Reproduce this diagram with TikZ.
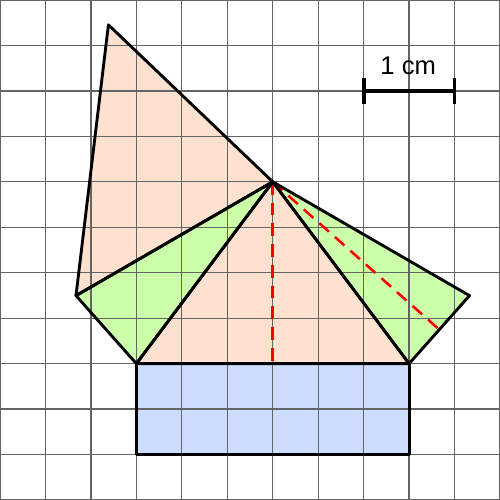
\documentclass[tikz,border=0pt]{standalone}
\usepackage{fontspec}
\setmainfont{Liberation Sans}
\definecolor{peach}{RGB}{255,225,208}
\definecolor{lgreen}{RGB}{204,255,170}
\definecolor{lblue}{RGB}{204,221,255}
\definecolor{gridgray}{RGB}{100,100,100}
\begin{document}
\begin{tikzpicture}[x=1cm,y=1cm,
  outline/.style={draw=black,line width=1.8pt,line join=round},
  gridline/.style={draw=gridgray,line width=0.8pt},
  heightline/.style={draw=red,line width=1.6pt,dash pattern=on 8pt off 5pt},
  scalebar/.style={draw=black,line width=2.4pt}]
\useasboundingbox (0,0) rectangle (11,11);
\fill[white] (0,0) rectangle (11,11);
\coordinate (A) at (6,7);
\coordinate (D) at (3,3);
\coordinate (B) at (9,3);
\coordinate (C) at (10.328,4.496);
\coordinate (E) at (1.672,4.496);
\coordinate (F) at (2.385,10.454);
\coordinate (H) at (6,3);
\coordinate (M) at (9.664,3.748);
\coordinate (R1) at (3,1);
\coordinate (R2) at (9,3);
% fills
\fill[lblue] (R1) rectangle (R2);
\fill[peach] (A) -- (D) -- (B) -- cycle;
\fill[peach] (E) -- (F) -- (A) -- cycle;
\fill[lgreen] (A) -- (D) -- (E) -- cycle;
\fill[lgreen] (A) -- (B) -- (C) -- cycle;
% grid
\foreach \i in {0,...,11} {
  \draw[gridline] (\i,0) -- (\i,11);
  \draw[gridline] (0,\i) -- (11,\i);
}
% dashed heights
\draw[heightline] (A) -- (H);
\draw[heightline] (A) -- (M);
% outlines
\draw[outline] (R1) rectangle (R2);
\draw[outline] (A) -- (D) -- (B) -- cycle;
\draw[outline] (E) -- (F) -- (A) -- cycle;
\draw[outline] (A) -- (D) -- (E) -- cycle;
\draw[outline] (A) -- (B) -- (C) -- cycle;
% scale bar
\coordinate (S1) at (8,9);
\coordinate (S2) at (10,9);
\draw[scalebar] (S1) -- (S2);
\draw[scalebar] ([yshift=-0.29cm]S1) -- ([yshift=0.29cm]S1);
\draw[scalebar] ([yshift=-0.29cm]S2) -- ([yshift=0.29cm]S2);
\node[font=\fontsize{16}{18}\selectfont] (lbl) at (8.98,9.56) {1 cm};
\end{tikzpicture}
\end{document}
